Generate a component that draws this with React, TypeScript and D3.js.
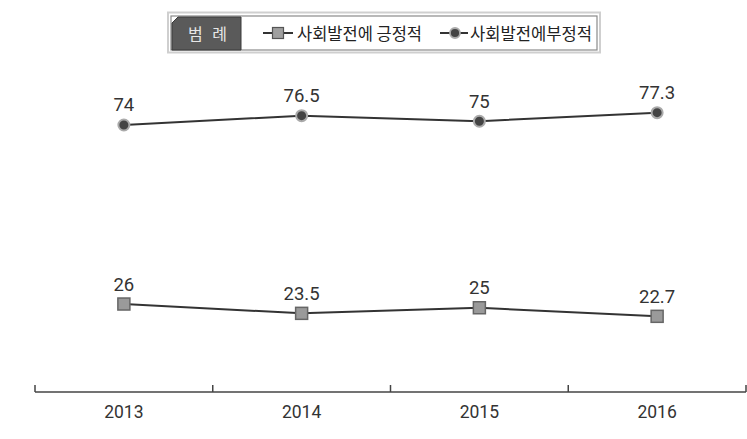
import React from "react";
import * as d3 from "d3";

const years = ["2013", "2014", "2015", "2016"];
const positiveValues = [26, 23.5, 25, 22.7];
const negativeValues = [74, 76.5, 75, 77.3];
const seriesNames = ["사회발전에 긍정적", "사회발전에부정적"];
const legendTitle = "범 례";

const W = 747;
const H = 439;
const FONT = "Roboto, 'Noto Sans CJK KR', sans-serif";
const KFONT = "'Noto Sans CJK KR', sans-serif";

export default function App() {
  const x = d3.scaleBand<string>().domain(years).range([35, 746]);
  const y = d3.scaleLinear().domain([0, 100]).range([401, 28]);
  const cx = (d: string) => (x(d) as number) + x.bandwidth() / 2;
  const line = d3
    .line<number>()
    .x((_, i) => cx(years[i]))
    .y((v) => y(v));
  const axisY = 392;
  const ticks = [...years.map((d) => x(d) as number), 746];

  return (
    <svg width={W} height={H} style={{ position: "absolute", left: 0, top: 0, background: "#fff" }}>
      {/* legend */}
      <g>
        <rect x={168} y={12.5} width={432} height={40} fill="#fff" stroke="#cfcfcf" strokeWidth={2} />
        <rect x={171} y={16} width={426} height={34} fill="#fff" stroke="#8a8a8a" strokeWidth={1.2} />
        <path d="M172,23 L178,17 L241,17 L241,50 L172,50 Z" fill="#5a5a5a" stroke="#3a3a3a" strokeWidth={1} />
        <text x={188} y={39.5} fill="#e6e6e6" fontSize={16} fontFamily={KFONT} textLength={39} lengthAdjust="spacing">
          {legendTitle}
        </text>
        {/* positive legend */}
        <line x1={263} x2={293} y1={33} y2={33} stroke="#333" strokeWidth={2} />
        <rect x={272.5} y={27.5} width={11} height={11} fill="#a0a0a0" stroke="#555" strokeWidth={1.2} />
        <text x={297} y={39.5} fill="#222" fontSize={16.5} fontFamily={KFONT} textLength={125} lengthAdjust="spacingAndGlyphs">
          {seriesNames[0]}
        </text>
        {/* negative legend */}
        <line x1={440} x2={468} y1={33} y2={33} stroke="#333" strokeWidth={2} />
        <circle cx={455} cy={33} r={5} fill="#444" stroke="#aaa" strokeWidth={1.8} />
        <text x={470} y={39.5} fill="#222" fontSize={16.5} fontFamily={KFONT} textLength={122} lengthAdjust="spacingAndGlyphs">
          {seriesNames[1]}
        </text>
      </g>

      {/* axis */}
      <line x1={35} x2={746} y1={axisY} y2={axisY} stroke="#444" strokeWidth={1.5} />
      {ticks.map((t, i) => (
        <line key={i} x1={t} x2={t} y1={axisY - 7} y2={axisY} stroke="#444" strokeWidth={1.5} />
      ))}
      {years.map((d) => (
        <text key={d} x={cx(d)} y={418} textAnchor="middle" fontSize={17.5} fill="#333" fontFamily={FONT}>
          {d}
        </text>
      ))}

      {/* lines */}
      <path d={line(negativeValues) || ""} fill="none" stroke="#333" strokeWidth={2} />
      <path d={line(positiveValues) || ""} fill="none" stroke="#333" strokeWidth={2} />

      {negativeValues.map((v, i) => (
        <g key={"n" + i}>
          <circle cx={cx(years[i])} cy={y(v)} r={5.5} fill="#444" stroke="#aaa" strokeWidth={2} />
          <text x={cx(years[i])} y={y(v) - 13.5} textAnchor="middle" fontSize={18.5} fill="#333" fontFamily={FONT}>
            {v}
          </text>
        </g>
      ))}
      {positiveValues.map((v, i) => (
        <g key={"p" + i}>
          <rect x={cx(years[i]) - 6} y={y(v) - 6} width={12} height={12} fill="#9a9a9a" stroke="#666" strokeWidth={1.5} />
          <text x={cx(years[i])} y={y(v) - 13.5} textAnchor="middle" fontSize={18.5} fill="#333" fontFamily={FONT}>
            {v}
          </text>
        </g>
      ))}
    </svg>
  );
}
